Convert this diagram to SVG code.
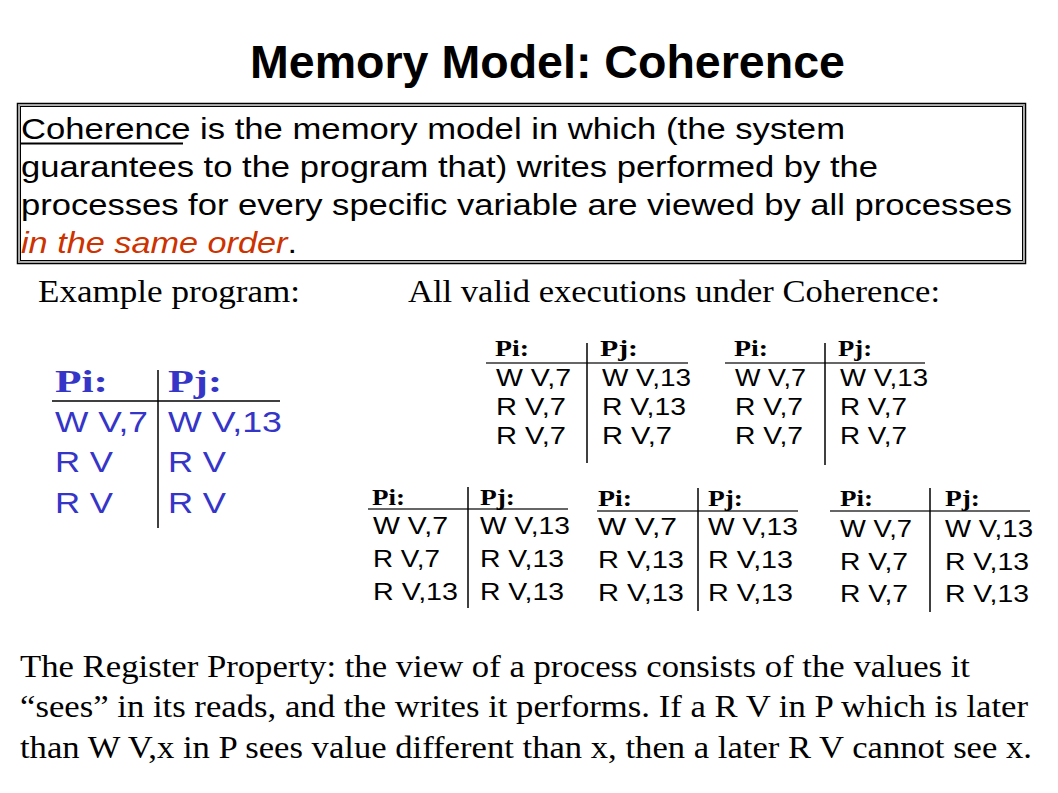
<svg xmlns="http://www.w3.org/2000/svg" width="1058" height="793" viewBox="0 0 1058 793">
<style>
.title{font-family:"Liberation Sans",Arial,sans-serif;font-weight:bold;font-size:46px;fill:#000}
.box{font-family:"Liberation Sans",Arial,sans-serif;font-size:30px;fill:#000}
.red{fill:#cc3300;font-style:italic}
.serif{font-family:"Liberation Serif","Times New Roman",serif;font-size:31px;fill:#000}
.bh{font-family:"Liberation Serif","Times New Roman",serif;font-weight:bold;font-size:32px;fill:#3535c8}
.bc{font-family:"Liberation Sans",Arial,sans-serif;font-size:30px;fill:#3535c8}
.th{font-family:"Liberation Serif","Times New Roman",serif;font-weight:bold;font-size:23px;fill:#000}
.tc{font-family:"Liberation Sans",Arial,sans-serif;font-size:23px;fill:#000}
.rule{stroke:#000;stroke-width:1.5;fill:none}
.hrule{stroke:#333;stroke-width:1.5;fill:none}
</style>
<rect width="1058" height="793" fill="#fff"/>

<g id="title">
<text class="title" x="250" y="78" textLength="595" lengthAdjust="spacingAndGlyphs">Memory Model: Coherence</text>
</g>

<g id="definition-box">
<rect x="17.5" y="103.5" width="1008" height="160" fill="none" stroke="#000" stroke-width="1.5"/>
<rect x="19" y="105" width="1005" height="157" fill="none" stroke="#999" stroke-width="1.5"/>
<rect x="20.5" y="106.5" width="1002" height="154" fill="none" stroke="#000" stroke-width="1"/>
<text class="box" x="21" y="139" textLength="824" lengthAdjust="spacingAndGlyphs">Coherence is the memory model in which (the system</text>
<line x1="21" y1="143.5" x2="183" y2="143.5" stroke="#000" stroke-width="2"/>
<text class="box" x="21" y="177" textLength="857" lengthAdjust="spacingAndGlyphs">guarantees to the program that) writes performed by the</text>
<text class="box" x="21" y="215" textLength="991" lengthAdjust="spacingAndGlyphs">processes for every specific variable are viewed by all processes</text>
<text class="box" x="21" y="253" textLength="276" lengthAdjust="spacingAndGlyphs"><tspan class="red">in the same order</tspan>.</text>
</g>

<g id="labels">
<text class="serif" x="38" y="302" textLength="262" lengthAdjust="spacingAndGlyphs">Example program:</text>
<text class="serif" x="408" y="302" textLength="532" lengthAdjust="spacingAndGlyphs">All valid executions under Coherence:</text>
</g>

<g id="example-program">
<line class="rule" x1="52" y1="401" x2="280" y2="401"/>
<line class="rule" x1="158" y1="370" x2="158" y2="528"/>
<text class="bh" x="55" y="392" textLength="53" lengthAdjust="spacingAndGlyphs">Pi:</text>
<text class="bh" x="168" y="392" textLength="54" lengthAdjust="spacingAndGlyphs">Pj:</text>
<text class="bc" x="55" y="432" textLength="93" lengthAdjust="spacingAndGlyphs">W V,7</text>
<text class="bc" x="168" y="432" textLength="114" lengthAdjust="spacingAndGlyphs">W V,13</text>
<text class="bc" x="55" y="472" textLength="58" lengthAdjust="spacingAndGlyphs">R V</text>
<text class="bc" x="168" y="472" textLength="58" lengthAdjust="spacingAndGlyphs">R V</text>
<text class="bc" x="55" y="513" textLength="58" lengthAdjust="spacingAndGlyphs">R V</text>
<text class="bc" x="168" y="513" textLength="58" lengthAdjust="spacingAndGlyphs">R V</text>
</g>

<g id="execution-1">
<line class="hrule" x1="486" y1="363" x2="688" y2="363"/>
<line class="rule" x1="587" y1="343" x2="587" y2="463"/>
<text class="th" x="495" y="356" textLength="34" lengthAdjust="spacingAndGlyphs">Pi:</text>
<text class="th" x="600" y="356" textLength="38" lengthAdjust="spacingAndGlyphs">Pj:</text>
<text class="tc" x="496" y="386" textLength="75" lengthAdjust="spacingAndGlyphs">W V,7</text>
<text class="tc" x="602" y="386" textLength="89" lengthAdjust="spacingAndGlyphs">W V,13</text>
<text class="tc" x="496" y="415" textLength="70" lengthAdjust="spacingAndGlyphs">R V,7</text>
<text class="tc" x="602" y="415" textLength="84" lengthAdjust="spacingAndGlyphs">R V,13</text>
<text class="tc" x="496" y="444" textLength="70" lengthAdjust="spacingAndGlyphs">R V,7</text>
<text class="tc" x="602" y="444" textLength="70" lengthAdjust="spacingAndGlyphs">R V,7</text>
</g>

<g id="execution-2">
<line class="hrule" x1="725" y1="363" x2="925" y2="363"/>
<line class="rule" x1="825" y1="343" x2="825" y2="465"/>
<text class="th" x="734" y="356" textLength="34" lengthAdjust="spacingAndGlyphs">Pi:</text>
<text class="th" x="838" y="356" textLength="34" lengthAdjust="spacingAndGlyphs">Pj:</text>
<text class="tc" x="735" y="386" textLength="71" lengthAdjust="spacingAndGlyphs">W V,7</text>
<text class="tc" x="840" y="386" textLength="88" lengthAdjust="spacingAndGlyphs">W V,13</text>
<text class="tc" x="735" y="415" textLength="68" lengthAdjust="spacingAndGlyphs">R V,7</text>
<text class="tc" x="840" y="415" textLength="67" lengthAdjust="spacingAndGlyphs">R V,7</text>
<text class="tc" x="735" y="444" textLength="68" lengthAdjust="spacingAndGlyphs">R V,7</text>
<text class="tc" x="840" y="444" textLength="67" lengthAdjust="spacingAndGlyphs">R V,7</text>
</g>

<g id="execution-3">
<line class="hrule" x1="368" y1="509" x2="568" y2="509"/>
<line class="rule" x1="468" y1="487" x2="468" y2="608"/>
<text class="th" x="372" y="505" textLength="33" lengthAdjust="spacingAndGlyphs">Pi:</text>
<text class="th" x="480" y="505" textLength="35" lengthAdjust="spacingAndGlyphs">Pj:</text>
<text class="tc" x="373" y="534" textLength="75" lengthAdjust="spacingAndGlyphs">W V,7</text>
<text class="tc" x="480" y="534" textLength="90" lengthAdjust="spacingAndGlyphs">W V,13</text>
<text class="tc" x="373" y="567" textLength="67" lengthAdjust="spacingAndGlyphs">R V,7</text>
<text class="tc" x="480" y="567" textLength="84" lengthAdjust="spacingAndGlyphs">R V,13</text>
<text class="tc" x="373" y="600" textLength="85" lengthAdjust="spacingAndGlyphs">R V,13</text>
<text class="tc" x="480" y="600" textLength="84" lengthAdjust="spacingAndGlyphs">R V,13</text>
</g>

<g id="execution-4">
<line class="hrule" x1="597" y1="511" x2="798" y2="511"/>
<line class="rule" x1="698" y1="488" x2="698" y2="611"/>
<text class="th" x="598" y="506" textLength="34" lengthAdjust="spacingAndGlyphs">Pi:</text>
<text class="th" x="708" y="506" textLength="35" lengthAdjust="spacingAndGlyphs">Pj:</text>
<text class="tc" x="598" y="535" textLength="79" lengthAdjust="spacingAndGlyphs">W V,7</text>
<text class="tc" x="708" y="535" textLength="90" lengthAdjust="spacingAndGlyphs">W V,13</text>
<text class="tc" x="598" y="568" textLength="86" lengthAdjust="spacingAndGlyphs">R V,13</text>
<text class="tc" x="708" y="568" textLength="85" lengthAdjust="spacingAndGlyphs">R V,13</text>
<text class="tc" x="598" y="601" textLength="86" lengthAdjust="spacingAndGlyphs">R V,13</text>
<text class="tc" x="708" y="601" textLength="85" lengthAdjust="spacingAndGlyphs">R V,13</text>
</g>

<g id="execution-5">
<line class="hrule" x1="830" y1="511" x2="1030" y2="511"/>
<line class="rule" x1="930" y1="488" x2="930" y2="612"/>
<text class="th" x="840" y="506" textLength="33" lengthAdjust="spacingAndGlyphs">Pi:</text>
<text class="th" x="945" y="506" textLength="35" lengthAdjust="spacingAndGlyphs">Pj:</text>
<text class="tc" x="840" y="537" textLength="72" lengthAdjust="spacingAndGlyphs">W V,7</text>
<text class="tc" x="945" y="537" textLength="88" lengthAdjust="spacingAndGlyphs">W V,13</text>
<text class="tc" x="840" y="570" textLength="68" lengthAdjust="spacingAndGlyphs">R V,7</text>
<text class="tc" x="945" y="570" textLength="84" lengthAdjust="spacingAndGlyphs">R V,13</text>
<text class="tc" x="840" y="602" textLength="68" lengthAdjust="spacingAndGlyphs">R V,7</text>
<text class="tc" x="945" y="602" textLength="84" lengthAdjust="spacingAndGlyphs">R V,13</text>
</g>

<g id="register-property">
<text class="serif" x="20" y="677" textLength="950" lengthAdjust="spacingAndGlyphs" style="font-size:32px">The Register Property: the view of a process consists of the values it</text>
<text class="serif" x="20" y="717" textLength="1008" lengthAdjust="spacingAndGlyphs" style="font-size:32px">“sees” in its reads, and the writes it performs. If a R V in P which is later</text>
<text class="serif" x="20" y="758" textLength="1012" lengthAdjust="spacingAndGlyphs" style="font-size:32px">than W V,x in P sees value different than x, then a later R V cannot see x.</text>
</g>
</svg>
